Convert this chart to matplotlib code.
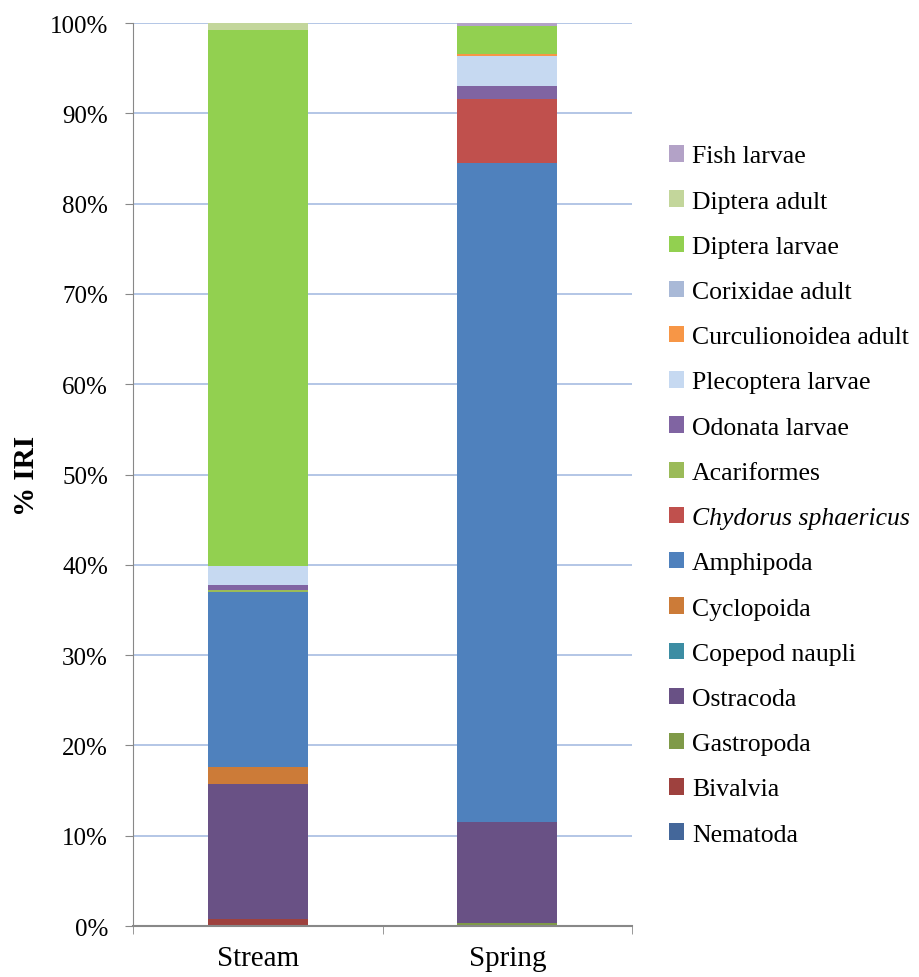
import numpy as np
import matplotlib
matplotlib.use('Agg')
import matplotlib.pyplot as plt

plt.rcParams['font.family'] = ['Liberation Serif', 'DejaVu Serif']

sites = ['Stream', 'Spring']

# stacked from bottom to top, values in % IRI
taxa = ['Nematoda', 'Bivalvia', 'Gastropoda', 'Ostracoda', 'Copepod naupli',
        'Cyclopoida', 'Amphipoda', 'Chydorus sphaericus', 'Acariformes',
        'Odonata larvae', 'Plecoptera larvae', 'Curculionoidea adult',
        'Corixidae adult', 'Diptera larvae', 'Diptera adult', 'Fish larvae']
stream = [0.05, 0.7, 0.05, 14.9, 0.05, 1.85, 19.4, 0.0, 0.2,
          0.6, 2.1, 0.0, 0.0, 59.3, 0.8, 0.0]
spring = [0.05, 0.05, 0.2, 11.2, 0.0, 0.0, 73.0, 7.1, 0.0,
          1.45, 3.35, 0.2, 0.0, 3.1, 0.0, 0.3]
colors = ['#44679A', '#9E413E', '#7F9A48', '#695185', '#3C8DA3',
          '#CC7B38', '#4F81BD', '#C0504D', '#9BBB59',
          '#8064A2', '#C6D9F1', '#F79646',
          '#A9B9D7', '#92D050', '#C3D69B', '#B3A2C7']

fig = plt.figure(figsize=(9.2, 9.78), dpi=100)
ax = fig.add_axes([0.1446, 0.0521, 0.5424, 0.9233])

x = np.arange(len(sites))
bottom = np.zeros(len(sites))
handles = []
for name, a, b, c in zip(taxa, stream, spring, colors):
    vals = np.array([a, b])
    h = ax.bar(x, vals, 0.4, bottom=bottom, color=c, edgecolor='none')
    bottom += vals
    handles.append(h)

ax.set_xlim(-0.5, 1.5)
ax.set_ylim(0, 100)
ax.set_yticks(np.arange(0, 101, 10))
ax.set_yticklabels([f'{v}%' for v in range(0, 101, 10)], fontsize=18)
ax.set_xticks(x)
ax.set_xticklabels(sites, fontsize=21)
ax.set_xticks([-0.5, 0.5, 1.5], minor=True)
ax.tick_params(axis='x', which='major', length=0, pad=14)
ax.tick_params(axis='x', which='minor', length=6, color='#888888')
ax.tick_params(axis='y', length=6, color='#888888', pad=12)
ax.yaxis.grid(True, color='#A7BCE2', linewidth=1.2)
ax.set_axisbelow(True)
for s in ['top', 'right']:
    ax.spines[s].set_visible(False)
ax.spines['left'].set_color('#888888')
ax.spines['bottom'].set_color('#888888')
ax.spines['bottom'].set_linewidth(1.5)
ax.set_ylabel('% IRI', fontsize=21, fontweight='bold', labelpad=7)

leg = fig.legend(handles[::-1], taxa[::-1], loc='upper left',
                 bbox_to_anchor=(0.716, 0.861), frameon=False, fontsize=18.5,
                 handlelength=0.6, handleheight=0.6, handletextpad=0.3,
                 labelspacing=0.895, borderaxespad=0)
for t in leg.get_texts():
    if t.get_text() == 'Chydorus sphaericus':
        t.set_fontstyle('italic')

fig.savefig('out.png', dpi=100)
